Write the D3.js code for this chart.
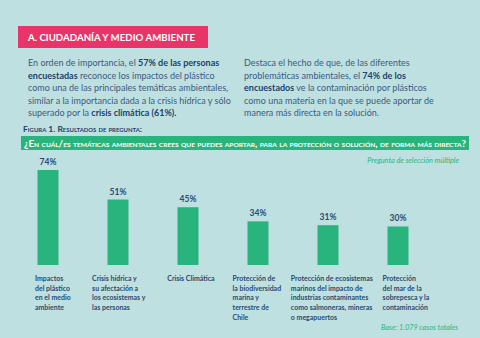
<!DOCTYPE html>
<html>
<head>
<meta charset="utf-8">
<script src="https://cdn.jsdelivr.net/npm/d3@7"></script>
<style>
  html, body { margin: 0; padding: 0; background: #bee0e1; }
  svg { display: block; font-family: Lato, "Open Sans", sans-serif; }
</style>
</head>
<body>
<svg id="chart" width="480" height="338"></svg>
<script>
// Survey results: share of respondents choosing each environmental topic
const categories = [
  "Impactos del plástico en el medio ambiente",
  "Crisis hídrica y su afectación a los ecosistemas y las personas",
  "Crisis Climática",
  "Protección de la biodiversidad marina y terrestre de Chile",
  "Protección de ecosistemas marinos del impacto de industrias contaminantes como salmoneras, mineras o megapuertos",
  "Protección del mar de la sobrepesca y la contaminación"
];
const values = [74, 51, 45, 34, 31, 30];
const categoryLines = [
  ["Impactos", "del plástico", "en el medio", "ambiente"],
  ["Crisis hídrica y", "su afectación a", "los ecosistemas y", "las personas"],
  ["Crisis Climática"],
  ["Protección de", "la biodiversidad", "marina y", "terrestre de", "Chile"],
  ["Protección de ecosistemas", "marinos del impacto de", "industrias contaminantes", "como salmoneras, mineras", "o megapuertos"],
  ["Protección", "del mar de la", "sobrepesca y la", "contaminación"]
];

const sectionTitle = "A. CIUDADANÍA Y MEDIO AMBIENTE";
const figureCaption = "Figura 1. Resultados de pregunta:";
const question = "¿En cuál/es temáticas ambientales crees que puedes aportar, para la protección o solución, de forma más directa?";
const noteTop = "Pregunta de selección múltiple";
const noteBase = "Base: 1.079 casos totales";

// Paragraph lines as [text, bold] segments
const leftParagraph = [
  [["En orden de importancia, el ", false], ["57% de las personas", true]],
  [["encuestadas", true], [" reconoce los impactos del plástico", false]],
  [["como una de las principales temáticas ambientales,", false]],
  [["similar a la importancia dada a la crisis hídrica y sólo", false]],
  [["superado por la ", false], ["crisis climática (61%).", true]]
];
const rightParagraph = [
  [["Destaca el hecho de que, de las diferentes", false]],
  [["problemáticas ambientales, el ", false], ["74% de los", true]],
  [["encuestados", true], [" ve la contaminación por plásticos", false]],
  [["como una materia en la que se puede aportar de", false]],
  [["manera más directa en la solución.", false]]
];

const navy = "#2b4a70";
const textBlue = "#3b5a80";
const green = "#2ab47d";
const pink = "#e83468";

const svg = d3.select("#chart");

// Section header
svg.append("rect").attr("x", 18).attr("y", 26).attr("width", 190).attr("height", 22).attr("fill", pink);
svg.append("text").attr("x", 28).attr("y", 41)
  .attr("fill", "#fff").attr("font-size", 10).attr("font-weight", 700)
  .attr("textLength", 167).attr("lengthAdjust", "spacingAndGlyphs")
  .text(sectionTitle);

// Intro paragraphs (slightly condensed type)
function paragraph(lines, x, y0) {
  const t = svg.append("text").attr("font-size", 9.8).attr("fill", textBlue)
    .attr("transform", `translate(${x},0) scale(0.92,1)`);
  lines.forEach((segs, i) => {
    segs.forEach((s, j) => {
      const ts = t.append("tspan").text(s[0]);
      if (j === 0) ts.attr("x", 0).attr("y", y0 + i * 12.5);
      if (s[1]) ts.attr("font-weight", 700).attr("fill", "#22416a");
    });
  });
}
paragraph(leftParagraph, 28, 66.5);
paragraph(rightParagraph, 244, 66.5);

// Figure caption and question banner
svg.append("text").attr("x", 23).attr("y", 132)
  .attr("fill", "#22416a").attr("font-size", 7.2).attr("font-weight", 700)
  .style("font-variant", "small-caps")
  .attr("textLength", 119).attr("lengthAdjust", "spacingAndGlyphs")
  .text(figureCaption);
svg.append("rect").attr("x", 21).attr("y", 136).attr("width", 448).attr("height", 14).attr("fill", green);
svg.append("text").attr("x", 24).attr("y", 146.5)
  .attr("fill", "#fff").attr("font-size", 9).attr("font-weight", 700)
  .style("font-variant", "small-caps")
  .attr("textLength", 442).attr("lengthAdjust", "spacingAndGlyphs")
  .text(question);

svg.append("text").attr("x", 459).attr("y", 163).attr("text-anchor", "end")
  .attr("fill", green).attr("font-size", 7.3).attr("font-style", "italic")
  .text(noteTop);
svg.append("text").attr("x", 381).attr("y", 329.5)
  .attr("fill", green).attr("font-size", 7.3).attr("font-style", "italic")
  .text(noteBase);

// Scales
const x = d3.scaleBand().domain(categories).range([13, 433])
  .paddingInner(0.7).paddingOuter(0.35);
const y = d3.scaleLinear().domain([0, 80]).range([265, 162.3]);

const data = categories.map((c, i) => ({ c, v: values[i], lines: categoryLines[i] }));

// Bars
svg.append("g").selectAll("rect").data(data).join("rect")
  .attr("x", d => x(d.c)).attr("width", x.bandwidth())
  .attr("y", d => y(d.v)).attr("height", d => y(0) - y(d.v))
  .attr("fill", green);

// Value labels
svg.append("g").selectAll("text").data(data).join("text")
  .attr("x", d => x(d.c) + x.bandwidth() / 2)
  .attr("y", d => y(d.v) - 5)
  .attr("text-anchor", "middle")
  .attr("fill", navy).attr("font-size", 8.5).attr("font-weight", 700)
  .text(d => d.v + "%");

// Category labels: condensed, left-aligned blocks roughly centred under each bar
const labelScale = 0.85;
const labelShift = [5, 1, 3, -1, 4, 8];
const lg = svg.append("g");
data.forEach((d, i) => {
  const t = lg.append("text").attr("fill", navy).attr("font-size", 8.2).attr("font-weight", 700);
  d.lines.forEach((ln, k) => {
    t.append("tspan").attr("x", 0).attr("y", 281 + k * 9.7).text(ln);
  });
  const w = t.node().getBBox().width * labelScale;
  const left = x(d.c) + x.bandwidth() / 2 - w / 2 + labelShift[i];
  t.attr("transform", `translate(${left},0) scale(${labelScale},1)`);
});
</script>
</body>
</html>
